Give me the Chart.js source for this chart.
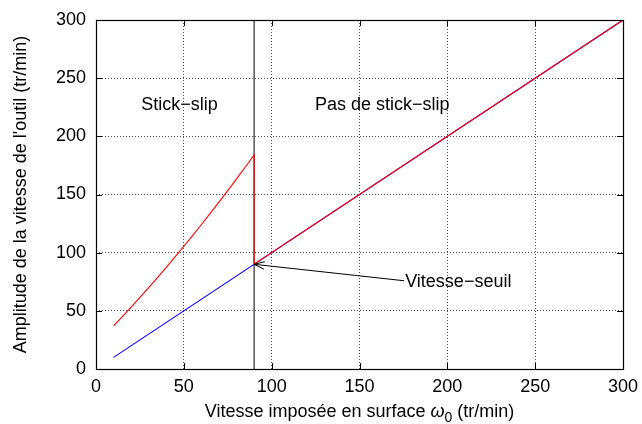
<!DOCTYPE html>
<html><head><meta charset="utf-8">
<script src="https://cdn.jsdelivr.net/npm/chart.js@4/dist/chart.umd.min.js"></script>
<style>html,body{margin:0;padding:0;background:#fff}</style>
</head><body>
<canvas id="c" width="642" height="424"></canvas>
<script>
const xTicks = [0, 50, 100, 150, 200, 250, 300];
const yTicks = [0, 50, 100, 150, 200, 250, 300];
// red: stick-slip amplitude, then drop at threshold, then equals imposed speed
const redX = [10, 15, 20, 25, 30, 35, 40, 45, 50, 55, 60, 65, 70, 75, 80, 85, 90, 90, 300];
const redY = [37, 45.0, 53.2, 61.5, 70.0, 78.6, 87.4, 96.4, 105.5, 114.7, 124.2, 133.8, 143.5, 153.4, 163.4, 173.6, 184, 90, 300];
const blueX = [10, 300];
const blueY = [10, 300];
const thresholdX = [90, 90];
const thresholdY = [0, 300];
const labels = [
  {text: 'Stick\u2212slip', x: 47.5, y: 227},
  {text: 'Pas de stick\u2212slip', x: 163, y: 227}
];
const arrowLabel = {text: 'Vitesse\u2212seuil', x: 176, y: 75, tipX: 90, tipY: 90};
const FONT = '"Liberation Sans", Arial, sans-serif';
const FS = 18;

const pts = (xs, ys) => xs.map((x, i) => ({x, y: ys[i]}));

const deco = {
  id: 'deco',
  beforeDatasetsDraw(chart) {
    const {ctx, chartArea: a} = chart;
    const xs = chart.scales.x, ys = chart.scales.y;
    ctx.save();
    ctx.strokeStyle = '#000';
    ctx.lineWidth = 1;
    xTicks.forEach(v => {
      const px = Math.round(xs.getPixelForValue(v)) + 0.5;
      ctx.beginPath(); ctx.moveTo(px, a.bottom); ctx.lineTo(px, a.bottom - 6); ctx.stroke();
      ctx.beginPath(); ctx.moveTo(px, a.top); ctx.lineTo(px, a.top + 6); ctx.stroke();
    });
    yTicks.forEach(v => {
      const py = Math.round(ys.getPixelForValue(v)) + 0.5;
      ctx.beginPath(); ctx.moveTo(a.left, py); ctx.lineTo(a.left + 6, py); ctx.stroke();
      ctx.beginPath(); ctx.moveTo(a.right, py); ctx.lineTo(a.right - 6, py); ctx.stroke();
    });
    ctx.restore();
  },
  afterDatasetsDraw(chart) {
    const {ctx, chartArea: a} = chart;
    const xs = chart.scales.x, ys = chart.scales.y;
    ctx.save();
    ctx.strokeStyle = '#000'; ctx.lineWidth = 1.2;
    ctx.strokeRect(Math.round(a.left) + 0.5, Math.round(a.top) + 0.5, Math.round(a.right - a.left), Math.round(a.bottom - a.top));
    ctx.fillStyle = '#000';
    ctx.font = FS + 'px ' + FONT;
    ctx.textAlign = 'center'; ctx.textBaseline = 'middle';
    labels.forEach(l => ctx.fillText(l.text, xs.getPixelForValue(l.x), ys.getPixelForValue(l.y)));
    const lx = xs.getPixelForValue(arrowLabel.x), ly = ys.getPixelForValue(arrowLabel.y);
    ctx.textAlign = 'left';
    ctx.fillText(arrowLabel.text, lx, ly);
    const tx = xs.getPixelForValue(arrowLabel.tipX), ty = ys.getPixelForValue(arrowLabel.tipY);
    const sx = lx - 1, sy = ly - 1;
    ctx.lineWidth = 1;
    ctx.beginPath(); ctx.moveTo(sx, sy); ctx.lineTo(tx, ty); ctx.stroke();
    const ang = Math.atan2(sy - ty, sx - tx);
    const L = 11, w = 0.35;
    ctx.beginPath();
    ctx.moveTo(tx + L * Math.cos(ang + w), ty + L * Math.sin(ang + w));
    ctx.lineTo(tx, ty);
    ctx.lineTo(tx + L * Math.cos(ang - w), ty + L * Math.sin(ang - w));
    ctx.stroke();
    ctx.textBaseline = 'alphabetic';
    const p1 = 'Vitesse imposée en surface ', p3 = ' (tr/min)';
    ctx.font = FS + 'px ' + FONT;
    const w1 = ctx.measureText(p1).width;
    ctx.font = 'italic ' + FS + 'px ' + FONT;
    const w2 = ctx.measureText('\u03c9').width;
    ctx.font = Math.round(FS * 0.75) + 'px ' + FONT;
    const wsub = ctx.measureText('0').width;
    ctx.font = FS + 'px ' + FONT;
    const w3 = ctx.measureText(p3).width;
    const total = w1 + w2 + wsub + w3;
    let x0 = (a.left + a.right) / 2 - total / 2;
    const by = 417;
    ctx.textAlign = 'left';
    ctx.fillText(p1, x0, by); x0 += w1;
    ctx.font = 'italic ' + FS + 'px ' + FONT;
    ctx.fillText('\u03c9', x0, by); x0 += w2;
    ctx.font = Math.round(FS * 0.75) + 'px ' + FONT;
    ctx.fillText('0', x0, by + 5); x0 += wsub;
    ctx.font = FS + 'px ' + FONT;
    ctx.fillText(p3, x0, by);
    ctx.translate(26, (a.top + a.bottom) / 2);
    ctx.rotate(-Math.PI / 2);
    ctx.textAlign = 'center';
    ctx.fillText("Amplitude de la vitesse de l'outil (tr/min)", 0, 0);
    ctx.restore();
  }
};

const gridColor = c => (c.tick && (c.tick.value === 0 || c.tick.value === 300)) ? 'rgba(0,0,0,0)' : 'rgba(0,0,0,0.7)';

new Chart(document.getElementById('c'), {
  type: 'scatter',
  data: {
    datasets: [
      {data: pts(redX, redY), showLine: true, borderColor: '#ff0000', borderWidth: 1.1, pointRadius: 0, tension: 0},
      {data: pts(blueX, blueY), showLine: true, borderColor: '#0000ff', borderWidth: 1.1, pointRadius: 0},
      {data: pts(thresholdX, thresholdY), showLine: true, borderColor: '#000', borderWidth: 1, pointRadius: 0}
    ]
  },
  options: {
    responsive: false,
    animation: false,
    events: [],
    layout: {padding: {left: 0, right: 19, top: 20, bottom: 0}},
    plugins: {legend: {display: false}, tooltip: {enabled: false}},
    scales: {
      x: {
        type: 'linear', min: 0, max: 300,
        afterBuildTicks: s => { s.ticks = xTicks.map(v => ({value: v})); },
        afterFit: s => { s.height = 55; s.paddingLeft = 0; s.paddingRight = 0; },
        border: {display: false, dash: [1, 2]},
        grid: {color: gridColor, lineWidth: 1, drawTicks: false},
        ticks: {color: '#000', font: {family: FONT, size: FS}, padding: 7, maxRotation: 0, autoSkip: false}
      },
      y: {
        type: 'linear', min: 0, max: 300,
        afterBuildTicks: s => { s.ticks = yTicks.map(v => ({value: v})); },
        afterFit: s => { s.width = 96; s.paddingTop = 0; s.paddingBottom = 0; },
        border: {display: false, dash: [1, 2]},
        grid: {color: gridColor, lineWidth: 1, drawTicks: false},
        ticks: {color: '#000', font: {family: FONT, size: FS}, padding: 10, autoSkip: false}
      }
    }
  },
  plugins: [deco]
});
</script>
</body></html>
